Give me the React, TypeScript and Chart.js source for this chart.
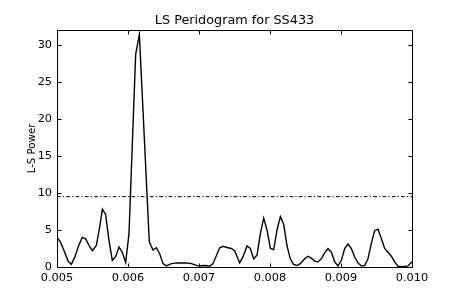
import React, { useEffect, useRef } from "react";
import { Chart, registerables } from "chart.js";

Chart.register(...registerables);

const title = "LS Peridogram for SS433";
const yLabel = "L-S Power";

const frequency = [
  0.005, 0.005047, 0.005108, 0.005155, 0.005202, 0.005249, 0.005305, 0.005357, 0.005404, 0.005451,
  0.005498, 0.005554, 0.005601, 0.005639, 0.005685, 0.005732, 0.005779, 0.005826, 0.005873, 0.00592,
  0.005967, 0.006014, 0.006108, 0.00616, 0.0063, 0.006352, 0.006399, 0.006446, 0.006493, 0.00654,
  0.00661, 0.006681, 0.006822, 0.006892, 0.006986, 0.00708, 0.00715, 0.007197, 0.007291, 0.007338,
  0.007408, 0.007455, 0.007502, 0.007573, 0.00762, 0.007676, 0.007723, 0.00777, 0.007817, 0.007864,
  0.007911, 0.007958, 0.008005, 0.008052, 0.008099, 0.008146, 0.008192, 0.008239, 0.008286, 0.008333,
  0.00838, 0.008427, 0.008488, 0.008535, 0.008582, 0.008629, 0.008676, 0.008723, 0.00877, 0.008817,
  0.008864, 0.008911, 0.008958, 0.009005, 0.009052, 0.009099, 0.009146, 0.009192, 0.009239, 0.009286,
  0.009333, 0.00938, 0.009427, 0.009474, 0.009521, 0.009568, 0.009615, 0.009662, 0.009709, 0.009756,
  0.009803, 0.009873, 0.009944, 0.01,
];

const power = [
  4.0, 3.4, 2.0, 0.8, 0.35, 1.3, 2.9, 4.0, 3.8, 2.9,
  2.2, 2.9, 5.4, 7.8, 7.1, 3.6, 0.9, 1.4, 2.7, 2.0,
  0.6, 4.5, 28.7, 31.4, 3.4, 2.3, 2.6, 1.8, 0.45, 0.15,
  0.45, 0.55, 0.55, 0.45, 0.15, 0.2, 0.1, 0.45, 2.6, 2.8,
  2.6, 2.5, 2.2, 0.55, 1.4, 2.85, 2.5, 1.1, 1.6, 4.5,
  6.6, 5.0, 2.5, 2.35, 5.0, 6.8, 5.8, 2.9, 1.1, 0.35,
  0.2, 0.45, 1.1, 1.45, 1.2, 0.8, 0.7, 1.1, 1.9, 2.5,
  2.0, 0.7, 0.15, 0.9, 2.5, 3.1, 2.5, 1.35, 0.55, 0.15,
  0.2, 1.1, 3.2, 4.9, 5.1, 3.85, 2.5, 2.0, 1.45, 0.7,
  0.1, 0.05, 0.15, 0.7,
];

const threshold = 9.5;
const xRange = [0.005, 0.01];
const yRange = [0, 32];
const xStep = 0.001;
const yStep = 5;

const FONT = "'DejaVu Sans', sans-serif";

const framePlugin = {
  id: "frameTicks",
  afterDraw(chart: any) {
    const { ctx, chartArea, scales } = chart;
    const { left, right, top, bottom } = chartArea;
    const xs = scales.x;
    const ys = scales.y;
    ctx.save();
    ctx.strokeStyle = "#000";
    ctx.lineWidth = 1;
    const L = Math.round(left) + 0.5;
    const R = Math.round(right) + 0.5;
    const T = Math.round(top) + 0.5;
    const B = Math.round(bottom) + 0.5;
    ctx.beginPath();
    ctx.rect(L, T, R - L, B - T);
    const tl = 4;
    xs.ticks.forEach((t: any) => {
      const px = Math.round(xs.getPixelForValue(t.value)) + 0.5;
      ctx.moveTo(px, B);
      ctx.lineTo(px, B - tl);
      ctx.moveTo(px, T);
      ctx.lineTo(px, T + tl);
    });
    ys.ticks.forEach((t: any) => {
      const py = Math.round(ys.getPixelForValue(t.value)) + 0.5;
      ctx.moveTo(L, py);
      ctx.lineTo(L + tl, py);
      ctx.moveTo(R, py);
      ctx.lineTo(R - tl, py);
    });
    ctx.stroke();
    ctx.restore();
  },
};

export default function App() {
  const ref = useRef<HTMLCanvasElement | null>(null);

  useEffect(() => {
    if (!ref.current) return;
    const chart = new Chart(ref.current, {
      type: "line",
      data: {
        datasets: [
          {
            data: frequency.map((f, i) => ({ x: f, y: power[i] })),
            borderColor: "#000",
            borderWidth: 1.4,
            pointRadius: 0,
            tension: 0,
            fill: false,
          },
          {
            data: [
              { x: xRange[0], y: threshold },
              { x: xRange[1], y: threshold },
            ],
            borderColor: "#000",
            borderWidth: 1,
            borderDash: [3.7, 2.2, 1.2, 2.2],
            pointRadius: 0,
            fill: false,
          },
        ],
      },
      options: {
        responsive: false,
        animation: false,
        events: [],
        layout: { padding: { left: 0, right: 46, top: 0, bottom: 0 } },
        plugins: {
          legend: { display: false },
          tooltip: { enabled: false },
          title: {
            display: true,
            text: title,
            fullSize: false,
            color: "#000",
            font: { family: FONT, size: 12.8, weight: "normal" },
            padding: { top: 13, bottom: 1.64 },
          },
        },
        scales: {
          x: {
            type: "linear",
            min: xRange[0],
            max: xRange[1],
            grid: { display: false, drawTicks: false },
            border: { display: false },
            afterFit: (s: any) => {
              s.height = 38;
            },
            ticks: {
              stepSize: xStep,
              autoSkip: false,
              maxRotation: 0,
              minRotation: 0,
              includeBounds: false,
              padding: 4,
              color: "#000",
              font: { family: FONT, size: 11.3 },
              callback: (v: any) => Number(v).toFixed(3),
            },
          },
          y: {
            type: "linear",
            min: yRange[0],
            max: yRange[1],
            grid: { display: false, drawTicks: false },
            border: { display: false },
            afterFit: (s: any) => {
              s.width = 57;
            },
            title: {
              display: true,
              text: yLabel,
              color: "#000",
              font: { family: FONT, size: 10.2 },
              padding: { top: 26, bottom: 0 },
            },
            ticks: {
              stepSize: yStep,
              includeBounds: false,
              padding: 5,
              color: "#000",
              font: { family: FONT, size: 11.3 },
            },
          },
        },
      },
      plugins: [framePlugin],
    });
    return () => chart.destroy();
  }, []);

  return (
    <div style={{ position: "fixed", left: 0, top: 0, width: 458, height: 305, background: "#fff" }}>
      <canvas ref={ref} width={458} height={305} style={{ display: "block" }} />
    </div>
  );
}
